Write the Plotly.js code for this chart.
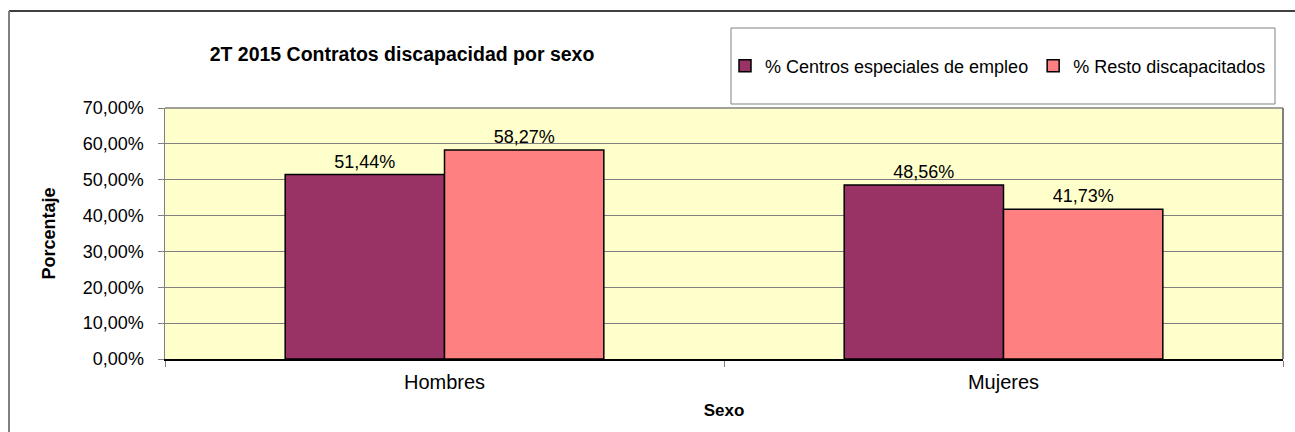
<!DOCTYPE html>
<html>
<head>
<meta charset="utf-8">
<script src="https://cdn.plot.ly/plotly-3.0.1.min.js"></script>
<style>
html,body{margin:0;padding:0;background:#fff;}
#chart{width:1295px;height:432px;}
</style>
</head>
<body>
<div id="chart"></div>
<script>
const categories = ["Hombres", "Mujeres"];
const seriesNames = ["% Centros especiales de empleo", "% Resto discapacitados"];
const centrosValues = [51.44, 48.56];
const restoValues = [58.27, 41.73];
const yTickValues = [0, 10, 20, 30, 40, 50, 60, 70];
const yTickLabels = ["0,00%", "10,00%", "20,00%", "30,00%", "40,00%", "50,00%", "60,00%", "70,00%"];

const W = 1295, H = 432;
const L = 165, R = 12, T = 108, B = 73;
const pw = W - L - R, ph = H - T - B;
const px = v => (v - L) / pw;
const py = v => (H - B - v) / ph;

const FONT = "Liberation Sans, Arial, sans-serif";

const common = {
  type: "bar",
  x: categories,
  textposition: "outside",
  texttemplate: "%{y:.2f}%",
  textfont: {family: FONT, size: 18, color: "#000"},
  cliponaxis: false,
  hoverinfo: "skip"
};

const data = [
  Object.assign({}, common, {
    name: seriesNames[0],
    y: centrosValues,
    marker: {color: "#993366", line: {color: "#000", width: 1.5}}
  }),
  Object.assign({}, common, {
    name: seriesNames[1],
    y: restoValues,
    marker: {color: "#FF8080", line: {color: "#000", width: 1.5}}
  })
];

const layout = {
  width: W, height: H,
  margin: {l: L, r: R, t: T, b: B, pad: 0},
  paper_bgcolor: "#ffffff",
  plot_bgcolor: "#FFFFCC",
  separators: ",.",
  barmode: "group",
  bargap: 0.43,
  bargroupgap: 0,
  showlegend: true,
  font: {family: FONT, color: "#000"},
  title: {
    text: "<b>2T 2015 Contratos discapacidad por sexo</b>",
    font: {family: FONT, size: 19.5, color: "#000"},
    xref: "paper", x: px(402), xanchor: "center",
    yref: "container", y: 1 - 54 / H, yanchor: "middle"
  },
  legend: {
    orientation: "h",
    x: px(725), xanchor: "left",
    y: py(66), yanchor: "middle",
    font: {family: FONT, size: 18, color: "#000"},
    bgcolor: "rgba(0,0,0,0)",
    borderwidth: 0,
    itemwidth: 30,
    tracegroupgap: 0
  },
  xaxis: {
    type: "category",
    tickson: "boundaries",
    ticks: "outside",
    ticklen: 6,
    tickcolor: "#808080",
    showline: true,
    linecolor: "#000",
    linewidth: 1.5,
    showgrid: false,
    tickfont: {family: FONT, size: 20, color: "#000"},
    ticklabelstandoff: 4,
    title: {text: "<b>Sexo</b>", font: {family: FONT, size: 17, color: "#000"}, standoff: 12},
    automargin: false,
    fixedrange: true
  },
  yaxis: {
    range: [0, 70],
    tickmode: "array",
    tickvals: yTickValues,
    ticktext: yTickLabels,
    ticks: "outside",
    ticklen: 6,
    tickcolor: "#808080",
    showline: true,
    linecolor: "#808080",
    linewidth: 1.5,
    showgrid: true,
    gridcolor: "#808080",
    gridwidth: 1,
    zeroline: false,
    tickfont: {family: FONT, size: 18, color: "#000"},
    ticklabelstandoff: 10,
    title: {text: "<b>Porcentaje</b>", font: {family: FONT, size: 18, color: "#000"}, standoff: 22},
    automargin: false,
    fixedrange: true
  },
  shapes: [
    {type: "line", xref: "paper", yref: "paper", x0: px(9), x1: px(1296), y0: py(11), y1: py(11), line: {color: "#000", width: 1.5}},
    {type: "line", xref: "paper", yref: "paper", x0: px(9), x1: px(9), y0: py(11), y1: py(433), line: {color: "#808080", width: 2}},
    {type: "line", xref: "paper", yref: "paper", x0: 0, x1: 1, y0: 1, y1: 1, line: {color: "#808080", width: 1.5}},
    {type: "line", xref: "paper", yref: "paper", x0: 1, x1: 1, y0: 0, y1: 1, line: {color: "#808080", width: 2}},
    {type: "rect", xref: "paper", yref: "paper", x0: px(731), x1: px(1275), y0: py(104), y1: py(28), line: {color: "#808080", width: 1}, fillcolor: "rgba(0,0,0,0)"}
  ]
};

Plotly.newPlot("chart", data, layout, {displayModeBar: false, staticPlot: true});
</script>
</body>
</html>
